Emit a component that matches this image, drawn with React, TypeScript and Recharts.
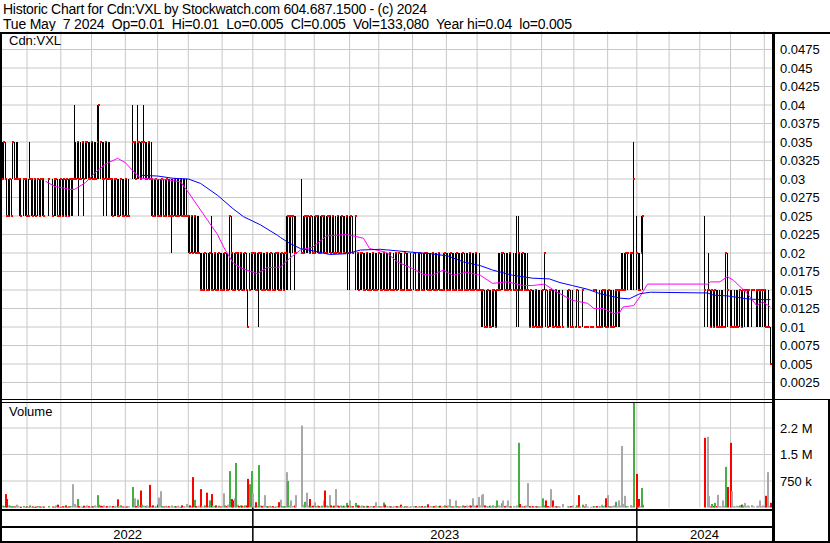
import { Bar, CartesianGrid, ComposedChart, Line, XAxis, YAxis } from 'recharts';

const _ = null;

// One entry per trading-day slot, May 9 2022 (slot 0) to May 7 2024 (slot 500); null = no trade.
const HIGH: (number | null)[] = [
  .035, .035, .035, .03, .03, .03, .03, .035, .035, .035, .035, .03, .03, _, .03, .03, .03, .03, .035, .03,
  .03, .03, .03, .03, .03, .03, .03, .03, _, _, .03, _, _, .03, .03, .03, .03, .03, .03, .03,
  .03, .03, .03, .03, .03, .03, .03, .04, .035, .035, .035, .035, .035, .035, .035, .035, .035, .035, .035, .035,
  .035, .035, .04, .04, .035, .035, .035, .035, .035, .035, .035, .03, .03, .03, .03, .03, .03, .03, .03, .03,
  .03, .03, .03, _, _, .04, .035, .035, .04, .035, .035, .035, .04, .035, .035, .035, .035, .035, .03, .03,
  .03, .03, .03, .03, .03, .03, .03, .03, .03, .03, .03, .03, .03, .03, .03, .03, .03, .03, .03, .03,
  .03, .025, .025, .025, .025, .025, .025, .025, .025, .02, .02, .02, .02, .02, .02, .02, .025, .02, .02, .02,
  .02, .02, .02, .02, .02, .02, .02, .02, .025, .025, .02, .02, .02, .02, .02, .02, .02, .02, .02, .02,
  .015, .02, .02, .02, .02, .02, .02, .02, .02, .02, .02, .02, .02, .02, .02, .02, .02, .02, .02, .02,
  .02, .02, .02, .02, .02, .025, .025, .025, .025, .025, .025, .025, _, _, _, .03, .025, .025, .025, .025,
  .025, .025, .025, .025, .025, .025, .025, .025, .025, .025, .025, .025, .025, .025, .025, .025, .025, .025, .025, .025,
  .025, .025, .025, .025, .025, .025, .025, .025, .025, _, .025, .02, .02, .02, .02, .02, .02, .02, .02, .02,
  .02, .02, .02, .02, .02, .02, .02, .02, .02, .02, .02, .02, .02, .02, .015, .02, .02, .02, .02, .02,
  .02, .015, .02, .02, .02, .015, .02, _, .02, .02, .015, .02, .02, .02, .02, .02, .02, .02, .02, .02,
  .02, .02, .02, .02, .02, .02, .015, .02, .02, .02, .02, .02, .02, .02, .02, .02, .02, .02, .02, .02,
  .02, .02, .02, .02, .02, .02, .02, .02, .02, .02, .015, .02, .015, .015, .015, .015, .015, .015, .015, .015,
  .015, .015, .015, .02, .02, .02, .02, .02, .02, .02, .02, .02, _, .02, .02, .025, .025, .02, .02, .02,
  .02, .02, .02, .015, .015, .015, .015, .015, .015, .015, .015, .015, .015, .02, .015, .015, .015, .015, .015, .015,
  .015, .015, .015, .015, _, .015, _, _, .015, .015, .015, .015, _, .01, .015, .015, .01, _, .015, .01,
  .01, .01, _, .01, .01, .015, .015, .015, .01, .015, .015, .015, .015, .015, .015, .015, .015, .015, .015, .015,
  .015, .015, .015, .02, .02, .02, .02, .02, _, .02, .02, .035, _, .025, .02, .02, .025, .025, _, _,
  _, _, _, _, _, _, _, _, _, _, _, _, _, _, _, _, _, _, _, _,
  _, _, _, _, _, _, _, _, _, _, _, _, _, _, _, _, _, .025, _, .015,
  .02, .015, .015, .015, .015, .015, .015, .015, .015, .015, .01, .02, .02, _, .015, .015, .01, .015, .015, .015,
  .015, .015, .015, .015, .015, .015, .015, _, .015, .015, _, .015, .015, .015, .015, .015, .015, .015, .01, .015,
  .01,
];

const LOW: (number | null)[] = [
  .03, .03, .03, .025, .025, .025, .025, .03, .03, .03, .03, .025, .025, _, .025, .025, .025, .025, .03, .025,
  .025, .025, .025, .025, .025, .025, .025, .025, _, _, .025, _, _, .025, .025, .025, .025, .025, .025, .025,
  .025, .025, .025, .025, .025, .025, .025, .03, .03, .03, .025, .03, .03, .025, .03, .03, .03, .03, .03, .03,
  .03, .03, .03, .03, .03, .03, .025, .03, .025, .03, .03, .025, .025, .025, .025, .025, .025, .025, .025, .025,
  .025, .025, .025, _, _, .03, .03, .03, .03, .03, .03, .03, .03, .03, .03, .03, .03, .025, .025, .025,
  .025, .025, .025, .025, .025, .025, .025, .025, .025, .025, .02, .025, .025, .025, .025, .025, .025, .025, .025, .025,
  .025, .02, .02, .02, .02, .02, .02, .02, .02, .015, .015, .015, .015, .015, .015, .015, .015, .015, .015, .015,
  .015, .015, .015, .015, .015, .015, .015, .015, .015, .015, .015, .015, .015, .015, .015, .015, .015, .015, .015, .015,
  .01, .015, .015, .015, .015, .015, .015, .01, .015, .015, .015, .015, .015, .015, .015, .015, .015, .015, .015, .015,
  .015, .015, .015, .015, .015, .015, .015, .02, .015, .02, .015, .02, _, _, _, .02, .02, .02, .02, .02,
  .02, .02, .02, .02, .02, .02, .02, .02, .02, .02, .02, .02, .02, .02, .02, .02, .02, .02, .02, .02,
  .02, .02, .02, .02, .02, .015, .015, .02, .02, _, .015, .015, .015, .015, .015, .015, .015, .015, .015, .015,
  .015, .015, .015, .015, .015, .015, .015, .015, .015, .015, .015, .015, .015, .015, .015, .015, .015, .015, .015, .015,
  .015, .015, .015, .015, .015, .015, .015, _, .015, .015, .015, .015, .015, .015, .015, .015, .015, .015, .015, .015,
  .015, .015, .015, .015, .015, .015, .015, .015, .015, .015, .015, .015, .015, .015, .015, .015, .015, .015, .015, .015,
  .015, .015, .015, .015, .015, .015, .015, .015, .015, .015, .015, .015, .01, .01, .01, .01, .01, .01, .01, .01,
  .01, .01, .01, .015, .015, .015, .015, .015, .015, .015, .015, .015, _, .015, .015, .01, .01, .015, .015, .015,
  .015, .015, .015, .01, .01, .01, .01, .01, .01, .01, .01, .01, .01, .015, .01, .01, .01, .01, .01, .01,
  .01, .01, .01, .01, _, .01, _, _, .01, .01, .01, .01, _, .01, .01, .01, .01, _, .01, .01,
  .01, .01, _, .01, .01, .015, .015, .01, .01, .01, .01, .01, .01, .01, .01, .01, .01, .01, .01, .01,
  .01, .01, .01, .015, .015, .015, .015, .015, _, .015, .015, .015, _, .015, .015, .015, .02, .015, _, _,
  _, _, _, _, _, _, _, _, _, _, _, _, _, _, _, _, _, _, _, _,
  _, _, _, _, _, _, _, _, _, _, _, _, _, _, _, _, _, .01, _, .01,
  .015, .01, .01, .01, .01, .01, .01, .01, .01, .01, .01, .01, .01, _, .01, .01, .01, .01, .01, .01,
  .01, .01, .01, .01, .015, .01, .01, _, .01, .015, _, .01, .01, .01, .01, .01, .01, .01, .01, .01,
  .005,
];

const CLOSE: (number | null)[] = [
  .03, .035, .03, .025, .025, .03, .025, .035, .03, .03, .03, .03, .025, _, .03, .03, .025, .025, .03, .03,
  .025, .03, .025, .03, .025, .03, .03, .025, _, _, .03, _, _, .025, .03, .03, .025, .025, .03, .025,
  .03, .025, .03, .025, .03, .03, .03, .03, .03, .035, .03, .03, .035, .03, .035, .035, .03, .03, .035, .03,
  .03, .03, .035, .04, .035, .03, .03, .035, .03, .03, .03, .03, .025, .03, .03, .025, .025, .03, .025, .025,
  .03, .025, .025, _, _, .035, .035, .03, .035, .035, .03, .035, .035, .03, .03, .035, .03, .03, .025, .025,
  .03, .025, .025, .025, .03, .025, .025, .03, .025, .025, .025, .025, .03, .025, .025, .025, .03, .025, .025, .025,
  .025, .025, .02, .025, .02, .025, .02, .02, .02, .015, .015, .015, .02, .015, .015, .02, .015, .015, .02, .015,
  .015, .02, .015, .015, .015, .02, .015, .015, .025, .02, .015, .015, .02, .02, .015, .02, .015, .015, .02, .015,
  .01, .015, .02, .02, .02, .015, .015, .02, .02, .015, .015, .015, .02, .015, .015, .02, .015, .015, .02, .02,
  .015, .015, .02, .015, .02, .02, .025, .025, .025, .025, .02, .02, _, _, _, .02, .02, .025, .025, .025,
  .02, .025, .02, .02, .025, .025, .02, .02, .025, .025, .02, .02, .025, .025, .02, .025, .02, .02, .025, .02,
  .02, .025, .02, .02, .025, .02, .02, .025, .02, _, .025, .02, .015, .02, .02, .015, .015, .02, .015, .015,
  .015, .02, .015, .015, .015, .02, .015, .015, .02, .015, .015, .015, .02, .015, .015, .015, .02, .015, .02, .015,
  .015, .015, .02, .015, .015, .015, .015, _, .02, .015, .015, .015, .02, .015, .015, .02, .02, .015, .015, .015,
  .02, .015, .015, .015, .02, .015, .015, .015, .02, .015, .015, .015, .02, .015, .015, .015, .02, .015, .015, .015,
  .02, .015, .015, .015, .02, .015, .015, .015, .02, .015, .015, .015, .015, .015, .01, .01, .015, .01, .01, .015,
  .015, .01, .015, .015, .015, .02, .02, .015, .015, .015, .02, .015, _, .015, .015, .015, .02, .015, .015, .02,
  .015, .015, .015, .01, .015, .01, .01, .015, .01, .01, .01, .01, .015, .02, .015, .01, .015, .015, .01, .01,
  .015, .01, .01, .01, _, .01, _, _, .01, .015, .01, .01, _, .01, .015, .01, .01, _, .015, .01,
  .01, .01, _, .01, .01, .015, .015, .01, .01, .01, .01, .015, .015, .01, .01, .015, .01, .01, .01, .015,
  .015, .015, .015, .015, .015, .015, .02, .02, _, .02, .02, .03, _, .02, .015, .015, .02, .025, _, _,
  _, _, _, _, _, _, _, _, _, _, _, _, _, _, _, _, _, _, _, _,
  _, _, _, _, _, _, _, _, _, _, _, _, _, _, _, _, _, .015, _, .015,
  .015, .01, .015, .01, .015, .01, .01, .01, .01, .01, .01, .02, .015, _, .01, .01, .01, .01, .01, .01,
  .015, .01, .015, .015, .015, .015, .015, _, .015, .015, _, .015, .015, .015, .015, .015, .015, .01, .01, .01,
  .005,
];

const VOLUME: (number | null)[] = [
  60000, 40000, 380000, 240000, 60000, 50000, 30000, 40000, 30000, 80000, 50000, 30000, 20000, _, 40000, 20000, 30000, 20000, 60000, 25000,
  30000, 20000, 25000, 40000, 30000, 20000, 35000, 25000, _, _, 40000, _, _, 30000, 20000, 60000, 80000, 30000, 20000, 40000,
  30000, 60000, 20000, 30000, 40000, 40000, 660000, 100000, 50000, 240000, 40000, 30000, 20000, 50000, 30000, 60000, 40000, 20000, 40000, 30000,
  60000, 30000, 350000, 80000, 50000, 40000, 60000, 30000, 40000, 30000, 50000, 30000, 40000, 30000, 30000, 230000, 40000, 60000, 30000, 40000,
  20000, 30000, 40000, _, _, 580000, 260000, 40000, 220000, 60000, 480000, 80000, 50000, 40000, 60000, 30000, 640000, 40000, 60000, 30000,
  30000, 80000, 280000, 460000, 40000, 30000, 50000, 30000, 40000, 30000, 60000, 30000, 40000, 30000, 50000, 30000, 20000, 60000, 40000, 30000,
  100000, 40000, 60000, 30000, 860000, 220000, 40000, 30000, 50000, 520000, 40000, 30000, 60000, 420000, 50000, 200000, 380000, 50000, 40000, 60000,
  30000, 50000, 30000, 40000, 400000, 60000, 40000, 80000, 1030000, 240000, 200000, 260000, 1260000, 80000, 40000, 60000, 50000, 40000, 60000, 60000,
  810000, 660000, 1030000, 400000, 40000, 150000, 50000, 1200000, 60000, 40000, 60000, 350000, 40000, 30000, 50000, 30000, 40000, 20000, 30000, 40000,
  150000, 220000, 40000, 30000, 40000, 1000000, 750000, 60000, 200000, 40000, 60000, 350000, _, _, _, 2320000, 80000, 160000, 420000, 60000,
  240000, 40000, 50000, 150000, 40000, 60000, 40000, 30000, 50000, 200000, 480000, 60000, 40000, 350000, 60000, 30000, 50000, 520000, 60000, 40000,
  60000, 40000, 50000, 40000, 130000, 60000, 200000, 40000, 40000, _, 130000, 60000, 50000, 30000, 60000, 40000, 30000, 50000, 40000, 30000,
  40000, 30000, 40000, 150000, 30000, 40000, 30000, 40000, 140000, 80000, 40000, 30000, 40000, 30000, 20000, 40000, 30000, 40000, 30000, 80000,
  40000, 20000, 40000, 30000, 30000, 20000, 40000, _, 30000, 40000, 20000, 40000, 30000, 40000, 20000, 40000, 30000, 90000, 30000, 40000,
  30000, 40000, 60000, 30000, 40000, 50000, 30000, 40000, 60000, 40000, 60000, 240000, 40000, 30000, 40000, 200000, 40000, 30000, 40000, 30000,
  60000, 40000, 60000, 40000, 60000, 50000, 260000, 60000, 40000, 60000, 300000, 60000, 350000, 380000, 60000, 40000, 30000, 50000, 40000, 60000,
  40000, 30000, 200000, 60000, 40000, 120000, 200000, 40000, 60000, 200000, 40000, 30000, _, 40000, 30000, 60000, 1830000, 100000, 40000, 30000,
  40000, 60000, 690000, 40000, 30000, 40000, 30000, 40000, 30000, 40000, 30000, 40000, 260000, 60000, 200000, 40000, 30000, 520000, 200000, 40000,
  40000, 30000, 40000, 30000, _, 100000, _, _, 40000, 30000, 40000, 60000, _, 20000, 60000, 350000, 30000, _, 80000, 30000,
  100000, 30000, _, 20000, 30000, 40000, 30000, 40000, 30000, 40000, 80000, 40000, 60000, 260000, 350000, 40000, 30000, 40000, 60000, 160000,
  40000, 200000, 60000, 1740000, 100000, 330000, 40000, 40000, _, 70000, 40000, 2960000, _, 950000, 240000, 40000, 550000, 80000, _, _,
  _, _, _, _, _, _, _, _, _, _, _, _, _, _, _, _, _, _, _, _,
  _, _, _, _, _, _, _, _, _, _, _, _, _, _, _, _, _, 1970000, _, 2000000,
  320000, 30000, 100000, 40000, 130000, 40000, 360000, 40000, 30000, 200000, 50000, 1150000, 580000, _, 1830000, 460000, 40000, 30000, 50000, 40000,
  60000, 80000, 50000, 130000, 40000, 60000, 40000, _, 70000, 30000, _, 40000, 50000, 200000, 40000, 60000, 40000, 330000, 1000000, 50000,
  133080,
];

// moving averages, sampled along the slots
const MA_FAST_SLOT = [
  28, 34, 39, 44, 47, 54, 60, 67, 75, 80, 85, 90, 96, 103, 107, 116, 120, 125, 129, 135,
  140, 144, 150, 155, 159, 166, 172, 181, 187, 194, 202, 211, 224, 235, 239, 250, 257, 267, 274, 280,
  287, 293, 302, 311, 319, 329, 339, 345, 353, 361, 363, 371, 381, 385, 391, 398, 402, 404, 411, 415,
  420, 459, 461, 467, 472, 476, 485, 491, 495, 500,
];
const MA_FAST = [
  .0297, .029, .0288, .0286, .0286, .0295, .0308, .032, .0328, .0322, .0311, .0301, .03, .0299, .0299, .0296, .0285, .027, .0258, .024,
  .0225, .0208, .0187, .018, .0177, .0172, .018, .0181, .0193, .0204, .0208, .0223, .0225, .022, .0206, .0201, .0188, .0179, .0171, .017,
  .0177, .017, .0174, .017, .0159, .0161, .0156, .0156, .0158, .0147, .0145, .0136, .0132, .0125, .0125, .0118, .012, .0127, .0129, .0141,
  .0158, .0158, .0161, .0161, .0168, .0163, .0145, .0129, .0134, .0127,
];
const MA_SLOW_SLOT = [
  90, 101, 111, 121, 129, 140, 150, 157, 168, 179, 181, 187, 194, 202, 213, 224, 233, 246, 267, 279,
  290, 300, 311, 319, 332, 345, 356, 363, 371, 381, 389, 402, 408, 415, 422, 459, 463, 472, 485, 493, 500,
];
const MA_SLOW = [
  .0305, .0304, .0301, .03, .0294, .0278, .026, .0249, .0238, .0224, .0221, .0213, .0206, .0203, .0198, .0199, .0204, .0205, .0201, .0199,
  .0196, .0188, .0183, .0177, .017, .0166, .0165, .016, .0156, .0151, .0145, .0139, .0138, .0145, .0147, .0146, .0143, .0142, .0138, .0137, .0137,
];

const MONTH_STARTS = [16, 38, 58, 80, 101, 121, 143, 163, 184, 203, 226, 245, 267, 289, 309, 331, 351, 372, 394, 413, 434, 454, 474, 496];
const YEAR_BOUNDS = [0, 163, 413, 501];
const YEARS = ['2022', '2023', '2024'];
const PRICE_TICKS = [
  0.0025, 0.005, 0.0075, 0.01, 0.0125, 0.015, 0.0175, 0.02, 0.0225, 0.025,
  0.0275, 0.03, 0.0325, 0.035, 0.0375, 0.04, 0.0425, 0.045, 0.0475,
];
const VOLUME_TICKS = [750000, 1500000, 2250000];
const VOLUME_TICK_LABELS = ['750 k', '1.5 M', '2.2 M'];

const TITLE = 'Historic Chart for Cdn:VXL by Stockwatch.com 604.687.1500 - (c) 2024';
const SUMMARY = 'Tue May  7 2024  Op=0.01  Hi=0.01  Lo=0.005  Cl=0.005  Vol=133,080  Year hi=0.04  lo=0.005';

const FONT = "'Liberation Sans', Arial, sans-serif";
const GRID = '#c8c8c8';
const UP = '#44b044';
const DOWN = '#ff0000';
const FLAT = '#a8a8a8';
const X_DOMAIN: [number, number] = [-0.3, 501];

type Day = { slot: number; high: number; low: number; close: number; volume: number; dir: number };

const days: Day[] = [];
HIGH.forEach((high, slot) => {
  if (high == null) return;
  const close = CLOSE[slot] as number;
  const prev = days[days.length - 1];
  days.push({
    slot,
    high,
    low: LOW[slot] as number,
    close,
    volume: VOLUME[slot] as number,
    dir: prev ? Math.sign(close - prev.close) : 0,
  });
});

const fastMa = MA_FAST_SLOT.map((slot, i) => ({ slot, ma: MA_FAST[i] }));
const slowMa = MA_SLOW_SLOT.map((slot, i) => ({ slot, ma: MA_SLOW[i] }));

const yearMids = YEARS.map((_y, i) => (YEAR_BOUNDS[i] + YEAR_BOUNDS[i + 1]) / 2);
const TIME_TICKS = [...yearMids, ...YEAR_BOUNDS.slice(1, -1)].sort((a, b) => a - b);

// the grid generators get the axis objects; their scale may be a plain d3 function or a wrapper with map()
function project(axis: any, v: number): number {
  const s = axis?.scale;
  if (typeof s === 'function') return s(v);
  if (s && typeof s.map === 'function') return s.map(v);
  return NaN;
}
const monthLines = (p: any) => MONTH_STARTS.map((m) => project(p.xAxis, m)).filter(Number.isFinite);
const priceLines = (p: any) => PRICE_TICKS.map((v) => project(p.yAxis, v)).filter(Number.isFinite);
const volumeLines = (p: any) => VOLUME_TICKS.map((v) => project(p.yAxis, v)).filter(Number.isFinite);

// high-low stick with the close marked in red
function PriceBar(props: any) {
  const { x, y, width, height, payload } = props;
  if (!payload || !Number.isFinite(x) || !Number.isFinite(y)) return null;
  const cx = Math.floor(x + width / 2);
  const top = Math.min(y, y + height);
  const h = Math.abs(height);
  const span = payload.high - payload.low;
  const yc = span > 0 ? top + (h * (payload.high - payload.close)) / span : top;
  return (
    <g>
      <rect x={cx} y={top} width={1} height={Math.max(h, 1)} fill="#000" />
      <rect x={cx} y={Math.round(yc) - 1} width={2} height={2} fill={DOWN} />
    </g>
  );
}

function VolumeBar(props: any) {
  const { x, y, width, height, payload } = props;
  if (!payload || !Number.isFinite(x) || !Number.isFinite(y)) return null;
  const cx = Math.floor(x + width / 2);
  const fill = payload.dir > 0 ? UP : payload.dir < 0 ? DOWN : FLAT;
  return <rect x={cx} y={y} width={2} height={Math.max(height, 1)} fill={fill} />;
}

function TimeTick(props: any) {
  const { x, y, payload } = props;
  const v = payload.value;
  if (YEAR_BOUNDS.includes(v)) {
    return <rect x={x - 0.75} y={y} width={1.5} height={35} fill="#000" />;
  }
  const label = YEARS[yearMids.indexOf(v)];
  return (
    <text x={x} y={y + 31} textAnchor="middle" fontSize={13} fontFamily={FONT} fill="#000">
      {label}
    </text>
  );
}

const line = (left: number, top: number, width: number, height: number) => (
  <div style={{ position: 'absolute', left, top, width, height, background: '#000' }} />
);

export default function App() {
  const tickStyle = { fill: '#000', fontSize: 13, fontFamily: FONT };
  return (
    <div style={{ position: 'absolute', left: 0, top: 0, width: 830, height: 543, background: '#fff', fontFamily: FONT, overflow: 'hidden' }}>
      <div style={{ position: 'absolute', left: 0, top: 0 }}>
        <ComposedChart width={830} height={401} data={days} margin={{ top: 31, right: 0, bottom: 0, left: 2 }}>
          <CartesianGrid stroke={GRID} verticalCoordinatesGenerator={monthLines} horizontalCoordinatesGenerator={priceLines} />
          <XAxis dataKey="slot" type="number" domain={X_DOMAIN} hide />
          <YAxis
            orientation="right"
            width={58}
            domain={[0, 0.05]}
            ticks={PRICE_TICKS}
            interval={0}
            axisLine={false}
            tickLine={false}
            tick={tickStyle}
            tickFormatter={(v: number) => String(v)}
          />
          <Bar dataKey={(d: Day) => [d.low, d.high]} barSize={1} shape={PriceBar} isAnimationActive={false} />
          <Line data={fastMa} dataKey="ma" stroke="#ff00ff" strokeWidth={1} dot={false} isAnimationActive={false} />
          <Line data={slowMa} dataKey="ma" stroke="#0000ff" strokeWidth={1} dot={false} isAnimationActive={false} />
        </ComposedChart>
      </div>

      <div style={{ position: 'absolute', left: 0, top: 400 }}>
        <ComposedChart width={830} height={143} data={days} margin={{ top: 1.5, right: 0, bottom: 0, left: 2 }}>
          <CartesianGrid stroke={GRID} verticalCoordinatesGenerator={monthLines} horizontalCoordinatesGenerator={volumeLines} />
          <XAxis
            dataKey="slot"
            type="number"
            domain={X_DOMAIN}
            ticks={TIME_TICKS}
            interval={0}
            height={35.5}
            axisLine={false}
            tickLine={false}
            tickSize={0}
            tickMargin={0}
            tick={TimeTick}
          />
          <YAxis
            orientation="right"
            width={58}
            domain={[0, 3000000]}
            ticks={VOLUME_TICKS}
            interval={0}
            axisLine={false}
            tickLine={false}
            tick={tickStyle}
            tickFormatter={(v: number) => VOLUME_TICK_LABELS[VOLUME_TICKS.indexOf(v)]}
          />
          <Bar dataKey="volume" barSize={1} shape={VolumeBar} isAnimationActive={false} />
        </ComposedChart>
      </div>

      <svg width={830} height={31} style={{ position: 'absolute', left: 0, top: 0 }}>
        <text x={3} y={13.5} fontSize={14} fontFamily={FONT} fill="#000" textLength={424} lengthAdjust="spacing" xmlSpace="preserve">
          {TITLE}
        </text>
        <text x={3} y={28.5} fontSize={14} fontFamily={FONT} fill="#000" textLength={569} lengthAdjust="spacing" xmlSpace="preserve" style={{ whiteSpace: 'pre' }}>
          {SUMMARY}
        </text>
      </svg>
      <div style={{ position: 'absolute', left: 9, top: 33, fontSize: 13, lineHeight: '15px', color: '#000' }}>Cdn:VXL</div>
      <div style={{ position: 'absolute', left: 9, top: 404, fontSize: 13, lineHeight: '15px', color: '#000' }}>Volume</div>

      {line(0, 32, 830, 2)}
      {line(0, 32, 2, 511)}
      {line(772, 32, 3, 511)}
      {line(828, 400, 2, 143)}
      {line(0, 399, 830, 1)}
      {line(0, 402, 773, 1)}
      {line(0, 509, 775, 2)}
      {line(0, 526, 775, 2)}
      {line(0, 541, 830, 2)}
    </div>
  );
}
